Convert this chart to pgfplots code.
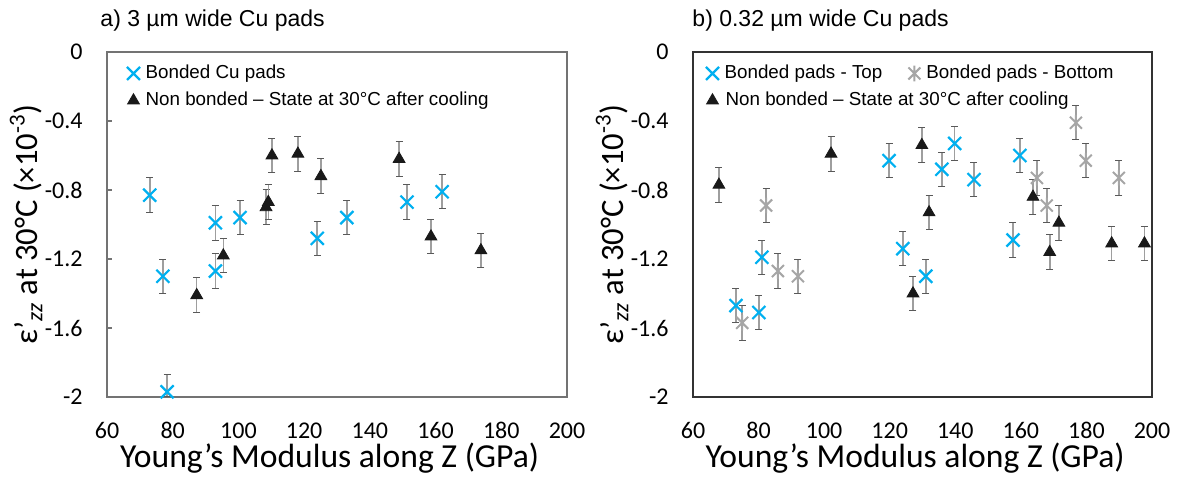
\documentclass[border=0pt]{standalone}
\usepackage{fontspec}
\setmainfont{Liberation Sans}
\newfontfamily\calibri{Carlito}
\usepackage{pgfplots}
\pgfplotsset{compat=1.18}
\definecolor{cublue}{HTML}{00B0F0}
\definecolor{cugray}{HTML}{A6A6A6}
\pgfdeclareplotmark{xstar}{%
  \pgfpathmoveto{\pgfqpoint{-\pgfplotmarksize}{-\pgfplotmarksize}}%
  \pgfpathlineto{\pgfqpoint{\pgfplotmarksize}{\pgfplotmarksize}}%
  \pgfpathmoveto{\pgfqpoint{-\pgfplotmarksize}{\pgfplotmarksize}}%
  \pgfpathlineto{\pgfqpoint{\pgfplotmarksize}{-\pgfplotmarksize}}%
  \pgfpathmoveto{\pgfpoint{0pt}{-1.3\pgfplotmarksize}}%
  \pgfpathlineto{\pgfpoint{0pt}{1.3\pgfplotmarksize}}%
  \pgfusepathqstroke}
\pgfplotsset{
  base/.style={
    scale only axis, height=172.5pt,
    xmin=60, xmax=200, ymin=-2, ymax=0, clip=false,
    xtick={60,80,...,200},
    xticklabels={60,80,100,120,140,160,180,200},
    ytick={-2,-1.6,-1.2,-0.8,-0.4,0},
    yticklabels={-2,-1.6,-1.2,-0.8,-0.4,0},
    xtick style={draw=none},
    xticklabel style={anchor=base, yshift=-20.5pt, inner sep=0pt, font=\calibri\fontsize{12}{14}\selectfont},
    yticklabel style={anchor=east, xshift=-12pt, inner sep=0pt, font=\calibri\fontsize{12}{14}\selectfont},
    xlabel={Young’s Modulus along Z (GPa)},
    ylabel={ε’\textsubscript{\textit{zz}} at 30°C (×10\textsuperscript{-3})},
    xlabel style={at={(axis description cs:0.484,-0.203)}, anchor=base, inner sep=0pt, font=\calibri\fontsize{16.8}{18}\selectfont},
    ylabel style={at={(axis description cs:-0.152,0.5)}, anchor=base, inner sep=0pt, font=\calibri\fontsize{16.3}{18}\selectfont},
    legend cell align=left,
    legend style={anchor=north west, draw=none, fill=none, inner sep=0pt,
      row sep=4.5pt, font=\fontsize{9.4}{11}\selectfont,
      nodes={inner sep=0pt, text height=7pt, text depth=2pt},
      /tikz/every odd column/.style={column sep=0.5pt},
      /tikz/every even column/.style={column sep=10.5pt}},
  },
  mk/.style={only marks,
    legend image code/.code={\path (0pt,0pt) (10pt,0pt); \draw[##1] plot coordinates {(5pt,0pt)};}},
  ebar/.style={error bars/.cd, y dir=both, y explicit,
    error bar style={color=black!38, line width=0.8pt},
    error mark options={rotate=90, mark size=1.75pt, color=black!65, line width=0.5pt}},
  sblue/.style={mk, mark=x, mark size=4.6pt, color=cublue, line width=1.1pt, ebar},
  sgray/.style={mk, mark=xstar, mark size=3pt, color=cugray, line width=1pt, ebar},
  stri/.style={mk, mark=triangle*, mark size=3.4pt, color=black!90, line width=0.4pt, ebar},
}
\begin{document}
\begin{tikzpicture}
\path[use as bounding box] (-53.5pt,-42.5pt) rectangle (536pt,198.5pt);
\begin{axis}[base, width=230pt, at={(0pt,0pt)}, anchor=south west,
  axis line style={black!55, line width=0.6pt},
  ytick pos=left, tick align=inside, major tick length=2.5pt,
  ytick style={black!55, line width=0.6pt},
  legend style={at={(axis description cs:0.0326,0.965)}}]
\addplot[sblue] coordinates {
 (73,-0.83) +- (0,0.1)
 (77,-1.30) +- (0,0.1)
 (78.3,-1.97) += (0,0.1) -= (0,0.03)
 (93,-0.99) +- (0,0.1)
 (93,-1.27) +- (0,0.1)
 (100.5,-0.96) +- (0,0.1)
 (124,-1.08) +- (0,0.1)
 (133,-0.96) +- (0,0.1)
 (151.3,-0.87) +- (0,0.1)
 (162,-0.81) +- (0,0.1)
};
\addlegendentry{Bonded Cu pads}
\addplot[stri] coordinates {
 (87.3,-1.41) +- (0,0.1)
 (95.4,-1.18) +- (0,0.1)
 (108.4,-0.90) +- (0,0.1)
 (109.1,-0.87) +- (0,0.1)
 (110.2,-0.60) +- (0,0.1)
 (118.1,-0.59) +- (0,0.1)
 (125.1,-0.72) +- (0,0.1)
 (148.9,-0.62) +- (0,0.1)
 (158.6,-1.07) +- (0,0.1)
 (173.8,-1.15) +- (0,0.1)
};
\addlegendentry{Non bonded – State at 30°C after cooling}
\node[anchor=base west, inner sep=0pt, font=\fontsize{11.5}{13}\selectfont] at (axis description cs:-0.015,1.0725) {a) 3 µm wide Cu pads};
\end{axis}
\begin{axis}[base, width=229.5pt, at={(293pt,0pt)}, anchor=south west,
  axis line style={black!80, line width=0.8pt},
  major tick length=0pt, ytick style={draw=none},
  legend columns=2,
  legend style={at={(axis description cs:0.0174,0.965)}}]
\addplot[sblue] coordinates {
 (73.1,-1.47) +- (0,0.1)
 (80.1,-1.51) +- (0,0.1)
 (81,-1.19) +- (0,0.1)
 (119.8,-0.63) +- (0,0.1)
 (124,-1.14) +- (0,0.1)
 (131,-1.30) +- (0,0.1)
 (135.9,-0.68) +- (0,0.1)
 (139.8,-0.53) +- (0,0.1)
 (145.7,-0.74) +- (0,0.1)
 (157.6,-1.09) +- (0,0.1)
 (159.7,-0.60) +- (0,0.1)
};
\addlegendentry{Bonded pads - Top}
\addplot[sgray] coordinates {
 (75,-1.57) +- (0,0.1)
 (82.3,-0.89) +- (0,0.1)
 (85.9,-1.27) +- (0,0.1)
 (92,-1.30) +- (0,0.1)
 (164.9,-0.73) +- (0,0.1)
 (167.9,-0.89) +- (0,0.1)
 (176.8,-0.41) +- (0,0.1)
 (179.8,-0.63) +- (0,0.1)
 (189.9,-0.73) +- (0,0.1)
};
\addlegendentry{Bonded pads - Bottom}
\addplot[stri] coordinates {
 (67.9,-0.77) +- (0,0.1)
 (102.1,-0.59) +- (0,0.1)
 (127.1,-1.40) +- (0,0.1)
 (129.8,-0.54) +- (0,0.1)
 (132,-0.93) +- (0,0.1)
 (163.7,-0.84) +- (0,0.1)
 (168.8,-1.16) +- (0,0.1)
 (171.6,-0.99) +- (0,0.1)
 (187.7,-1.11) +- (0,0.1)
 (197.7,-1.11) +- (0,0.1)
};
\addlegendentry{\rlap{Non bonded – State at 30°C after cooling}}
\node[anchor=base west, inner sep=0pt, font=\fontsize{11.5}{13}\selectfont] at (axis description cs:-0.002,1.0725) {b) 0.32 µm wide Cu pads};
\end{axis}
\end{tikzpicture}
\end{document}
